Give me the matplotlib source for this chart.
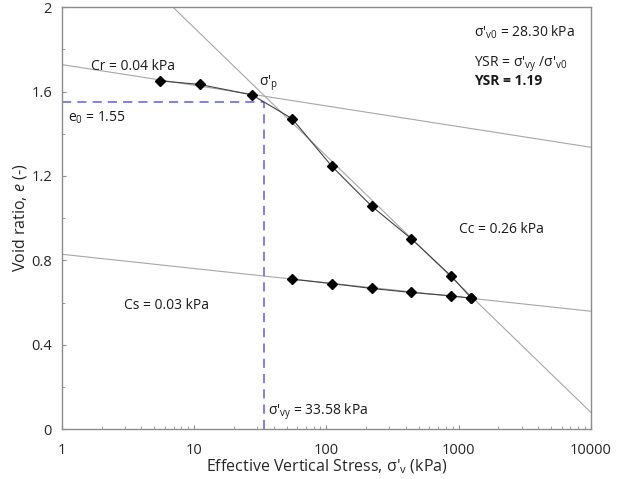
import numpy as np
import matplotlib.pyplot as plt
from matplotlib.ticker import FixedLocator, LogLocator, NullFormatter, FuncFormatter

plt.rcParams['font.family'] = ['Open Sans', 'DejaVu Sans']
plt.rcParams['mathtext.fontset'] = 'custom'
plt.rcParams['mathtext.rm'] = 'Open Sans'
plt.rcParams['mathtext.it'] = 'Open Sans:italic'
plt.rcParams['mathtext.bf'] = 'Open Sans:bold'

# consolidation test data
load_stress = [5.5, 11, 27.5, 55, 110, 220, 440, 880, 1250]
load_e = [1.651, 1.634, 1.584, 1.472, 1.246, 1.057, 0.902, 0.725, 0.621]
unload_stress = [1250, 880, 440, 220, 110, 55]
unload_e = [0.621, 0.632, 0.648, 0.667, 0.690, 0.711]

# fitted lines: e at stress = 1 and slope per log decade
cr_line = (1.728, -0.098)
cc_line = (2.0 + 0.608 * np.log10(6.93), -0.608)
cs_line = (0.829, -0.0675)

sigma_vy = 33.58
e0 = 1.55

fig, ax = plt.subplots(figsize=(6.24, 4.79), dpi=100)
fig.subplots_adjust(left=0.099, right=0.947, top=0.985, bottom=0.104)

xs = np.logspace(0, 4, 200)
for a, b in (cr_line, cc_line, cs_line):
    ax.plot(xs, a + b * np.log10(xs), color='#a6a6a6', lw=0.8, zorder=1)

ax.plot(load_stress, load_e, color='#404040', lw=0.8, marker='D', ms=5,
        mfc='black', mec='black', zorder=3)
ax.plot(unload_stress, unload_e, color='#404040', lw=0.8, marker='D', ms=5,
        mfc='black', mec='black', zorder=3)

ax.plot([1, sigma_vy], [e0, e0], color='#5b5bef', lw=1.1, ls=(0, (6, 4)), zorder=2)
ax.plot([sigma_vy, sigma_vy], [0, e0], color='#5b5bef', lw=1.1, ls=(0, (6, 4)), zorder=2)

ax.set_xscale('log')
ax.set_xlim(1, 10000)
ax.set_ylim(0, 2)
ax.xaxis.set_major_locator(LogLocator(base=10, numticks=10))
ax.xaxis.set_major_formatter(FuncFormatter(lambda v, p: '%d' % round(v)))
ax.xaxis.set_minor_locator(LogLocator(base=10, subs=np.arange(2, 10), numticks=20))
ax.xaxis.set_minor_formatter(NullFormatter())
ax.yaxis.set_major_locator(FixedLocator([0, 0.4, 0.8, 1.2, 1.6, 2.0]))
ax.yaxis.set_major_formatter(FuncFormatter(lambda v, p: '%g' % round(v, 1)))
ax.yaxis.set_minor_locator(FixedLocator([0.2, 0.6, 1.0, 1.4, 1.8]))

ax.tick_params(which='both', direction='in', color='#8c8c8c', labelsize=10.5,
               labelcolor='#262626')
ax.tick_params(axis='x', which='major', pad=10)
ax.tick_params(axis='y', which='major', pad=7)
ax.tick_params(which='major', length=3)
ax.tick_params(which='minor', length=2)
for s in ax.spines.values():
    s.set_color('#8c8c8c')
    s.set_linewidth(1.0)

ax.set_xlabel("Effective Vertical Stress, σ'$_\\mathrm{v}$ (kPa)", fontsize=11.5,
              color='#262626', labelpad=0)
ax.set_ylabel("Void ratio, $\\it{e}$ (-)", fontsize=11.5, color='#262626', labelpad=2)

tc = '#1a1a1a'
fs = 10
ax.text(1.65, 1.70, 'Cr = 0.04 kPa', fontsize=fs, color=tc)
ax.text(31, 1.63, "σ'$_\\mathrm{p}$", fontsize=fs, color=tc)
ax.text(1.12, 1.46, 'e$_0$ = 1.55', fontsize=fs, color=tc)
ax.text(2.95, 0.57, 'Cs = 0.03 kPa', fontsize=fs, color=tc)
ax.text(1000, 0.93, 'Cc = 0.26 kPa', fontsize=fs, color=tc)
ax.text(36.5, 0.07, "σ'$_\\mathrm{vy}$ = 33.58 kPa", fontsize=fs, color=tc)
ax.text(1300, 1.86, "σ'$_\\mathrm{v0}$ = 28.30 kPa", fontsize=fs, color=tc)
ax.text(1300, 1.72, "YSR = σ'$_\\mathrm{vy}$ /σ'$_\\mathrm{v0}$", fontsize=fs, color=tc)
ax.text(1300, 1.63, 'YSR = 1.19', fontsize=fs, color=tc, fontweight='bold')

fig.savefig('out.png', dpi=100)
